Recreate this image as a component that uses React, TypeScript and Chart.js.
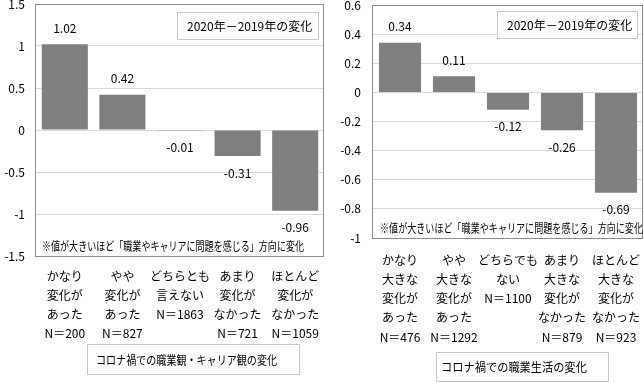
import React, { useEffect, useRef } from 'react';
import { Chart, registerables } from 'chart.js';

Chart.register(...registerables);

const FONT = '"Noto Sans CJK JP", "Noto Sans", sans-serif';

// ---- data: left panel (career view change) ----
const careerCategories: string[][] = [
  ['かなり', '変化が', 'あった', 'N＝200'],
  ['やや', '変化が', 'あった', 'N＝827'],
  ['どちらとも', '言えない', 'N＝1863'],
  ['あまり', '変化が', 'なかった', 'N＝721'],
  ['ほとんど', '変化が', 'なかった', 'N＝1059'],
];
const careerValues = [1.02, 0.42, -0.01, -0.31, -0.96];
const careerYMin = -1.5;
const careerYMax = 1.5;
const careerYStep = 0.5;
const careerTitle = 'コロナ禍での職業観・キャリア観の変化';

// ---- data: right panel (working life change) ----
const lifeCategories: string[][] = [
  ['かなり', '大きな', '変化が', 'あった', 'N＝476'],
  ['やや', '大きな', '変化が', 'あった', 'N＝1292'],
  ['どちらでも', 'ない', 'N＝1100'],
  ['あまり', '大きな', '変化が', 'なかった', 'N＝879'],
  ['ほとんど', '大きな', '変化が', 'なかった', 'N＝923'],
];
const lifeValues = [0.34, 0.11, -0.12, -0.26, -0.69];
const lifeYMin = -1;
const lifeYMax = 0.6;
const lifeYStep = 0.2;
const lifeTitle = 'コロナ禍での職業生活の変化';

const legendLabel = '2020年－2019年の変化';
const noteText = '※値が大きいほど「職業やキャリアに問題を感じる」方向に変化';

const decor = {
  id: 'decor',
  afterDatasetsDraw(chart: any, _args: any, opts: any) {
    const ctx = chart.ctx as CanvasRenderingContext2D;
    const a = chart.chartArea;
    ctx.save();
    // data labels
    ctx.font = `12px ${FONT}`;
    ctx.fillStyle = '#000';
    ctx.textAlign = 'center';
    ctx.textBaseline = 'middle';
    const meta = chart.getDatasetMeta(0);
    const vals = chart.data.datasets[0].data as number[];
    meta.data.forEach((el: any, i: number) => {
      const v = vals[i];
      const y = v >= 0 ? el.y - 16 : el.y + 17;
      ctx.fillText(v.toFixed(2), el.x, y);
    });
    // plot-area frame
    ctx.strokeStyle = '#8c8c8c';
    ctx.lineWidth = 1;
    ctx.strokeRect(Math.round(a.left) - 0.5, Math.round(a.top) + 0.5, Math.round(a.right - a.left), Math.round(a.bottom - a.top));
    // note
    ctx.textAlign = 'left';
    ctx.fillText(opts.note, a.left + opts.noteDx, a.bottom - opts.noteDy, opts.noteW);
    // legend box
    const lx = a.right - opts.legRight - opts.legW;
    const ly = a.top + opts.legTop;
    ctx.fillStyle = '#fff';
    ctx.fillRect(lx, ly, opts.legW, opts.legH);
    ctx.strokeStyle = '#c8c8c8';
    ctx.strokeRect(Math.round(lx) + 0.5, Math.round(ly) + 0.5, opts.legW, opts.legH);
    ctx.fillStyle = '#000';
    ctx.fillText(opts.legend, lx + 10, ly + opts.legH / 2 + 0.5, opts.legW - 14);
    // bottom title box
    const t = opts.titleBox;
    ctx.strokeStyle = '#c8c8c8';
    ctx.strokeRect(t.x + 0.5, t.y + 0.5, t.w, t.h);
    ctx.fillText(opts.title, t.x + t.pad, t.y + t.h / 2 + 1, t.tw);
    ctx.restore();
  },
};

type PanelCfg = {
  width: number;
  height: number;
  left: number;
  top: number;
  right: number;
  bottom: number;
  barPct: number;
  xPad: number;
  yPad: number;
  noteDx: number;
  noteDy: number;
  noteW: number;
  legW: number;
  legH: number;
  legRight: number;
  legTop: number;
  titleBox: { x: number; y: number; w: number; h: number; pad: number; tw: number };
};

function BarPanel(props: {
  labels: string[][];
  values: number[];
  yMin: number;
  yMax: number;
  yStep: number;
  title: string;
  cfg: PanelCfg;
}) {
  const ref = useRef<HTMLCanvasElement>(null);
  const { labels, values, yMin, yMax, yStep, title, cfg } = props;
  useEffect(() => {
    const chart = new Chart(ref.current as HTMLCanvasElement, {
      type: 'bar',
      data: {
        labels,
        datasets: [
          {
            data: values,
            backgroundColor: '#7f7f7f',
            barPercentage: cfg.barPct,
            categoryPercentage: 1,
          },
        ],
      },
      options: {
        responsive: false,
        animation: false,
        devicePixelRatio: 1,
        layout: { padding: { left: 0, top: cfg.top, right: cfg.right, bottom: 0 } },
        plugins: {
          legend: { display: false },
          tooltip: { enabled: false },
          decor: {
            note: noteText,
            noteDx: cfg.noteDx,
            noteDy: cfg.noteDy,
            noteW: cfg.noteW,
            legend: legendLabel,
            legW: cfg.legW,
            legH: cfg.legH,
            legRight: cfg.legRight,
            legTop: cfg.legTop,
            title,
            titleBox: cfg.titleBox,
          },
        } as any,
        scales: {
          x: {
            grid: { display: false, drawTicks: false },
            border: { display: false },
            ticks: {
              autoSkip: false,
              maxRotation: 0,
              minRotation: 0,
              padding: cfg.xPad,
              color: '#000',
              font: { family: FONT, size: 12, lineHeight: 19.3 / 12 },
            },
            afterFit: (s: any) => {
              s.height = cfg.height - cfg.bottom;
              s.paddingLeft = 0;
              s.paddingRight = 0;
            },
          },
          y: {
            min: yMin,
            max: yMax,
            ticks: {
              stepSize: yStep,
              padding: cfg.yPad,
              color: '#000',
              font: { family: FONT, size: 12 },
              callback: (v: any) => String(Math.round(Number(v) * 10) / 10),
            },
            grid: { color: '#d9d9d9', drawTicks: false },
            border: { display: false },
            afterFit: (s: any) => {
              s.width = cfg.left;
              s.paddingTop = 0;
              s.paddingBottom = 0;
            },
          },
        },
      },
      plugins: [decor as any],
    });
    return () => chart.destroy();
  }, []);
  return (
    <canvas
      ref={ref}
      width={cfg.width}
      height={cfg.height}
      style={{ width: cfg.width, height: cfg.height, display: 'block' }}
    />
  );
}

const leftCfg: PanelCfg = {
  width: 330,
  height: 382,
  left: 36,
  top: 4,
  right: 6,
  bottom: 256,
  barPct: 0.8,
  xPad: 10.35,
  yPad: 11,
  noteDx: 6,
  noteDy: 9.5,
  noteW: 262,
  legW: 141,
  legH: 27,
  legRight: 6,
  legTop: 8,
  titleBox: { x: 87, y: 344, w: 212, h: 30, pad: 9, tw: 181 },
};

const rightCfg: PanelCfg = {
  width: 314,
  height: 382,
  left: 43,
  top: 5,
  right: 1,
  bottom: 238,
  barPct: 0.78,
  xPad: 12.35,
  yPad: 12,
  noteDx: 7,
  noteDy: 10,
  noteW: 263,
  legW: 140,
  legH: 27,
  legRight: 6,
  legTop: 6,
  titleBox: { x: 106, y: 352, w: 172, h: 29, pad: 5, tw: 146 },
};

export default function App() {
  return (
    <div style={{ position: 'fixed', left: 0, top: 0, width: 644, height: 382, background: '#fff' }}>
      <div style={{ position: 'absolute', left: 0, top: 0 }}>
        <BarPanel
          labels={careerCategories}
          values={careerValues}
          yMin={careerYMin}
          yMax={careerYMax}
          yStep={careerYStep}
          title={careerTitle}
          cfg={leftCfg}
        />
      </div>
      <div style={{ position: 'absolute', left: 330, top: 0 }}>
        <BarPanel
          labels={lifeCategories}
          values={lifeValues}
          yMin={lifeYMin}
          yMax={lifeYMax}
          yStep={lifeYStep}
          title={lifeTitle}
          cfg={rightCfg}
        />
      </div>
    </div>
  );
}
